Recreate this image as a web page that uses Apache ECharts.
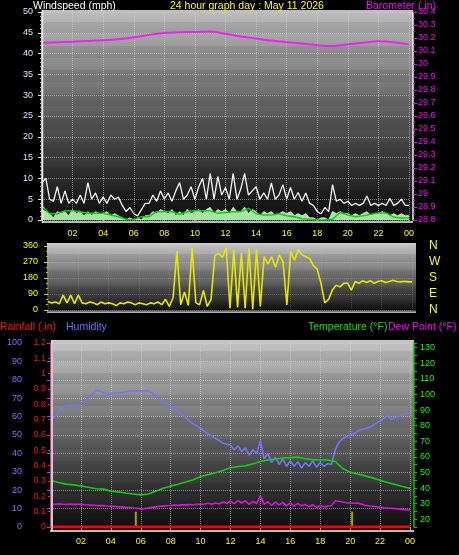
<!DOCTYPE html>
<html><head><meta charset="utf-8">
<script src="https://cdn.jsdelivr.net/npm/echarts/dist/echarts.min.js"></script>
<style>html,body{margin:0;padding:0;background:#000;}#c{width:459px;height:555px;}</style>
</head><body><div id="c"></div><script>
// ---------- DATA ----------
const hourLabels = ['00','02','04','06','08','10','12','14','16','18','20','22','00'];
const dirLetters = ['N','E','S','W','N'];          // 0, 90, 180, 270, 360
// samples every 15 min (97 values, 0h..24h)
const windGust = [9,10,5,4.5, 8,4,7,4, 5,4,6,4, 9,5,6.5,4, 5.5,4,6,5, 5.5,3.5,2,3, 1.5,1,2.5,4, 4,6,4.5,7,
  5,6.5,4.5,7, 9,5,6,8, 5,8,10,5, 11.2,5,10.5,6, 7.8,5,11.2,5, 7.5,11.2,6,7, 8,5,6.5,5, 8.9,5,6,8.5,
  5,7.8,5,6.6, 4.5,6.5,4,3.5, 2,1.5,3,2, 8.5,4.5,5,4, 4.5,3.5,4,3.5, 4,5.8,3.5,4, 3.5,4,3.5,5.2, 3.5,4,5,3.5, 3.5];
const windSpeed = [2.5,2,1.5,0.5, 2,1.5,2,1, 2.5,1.5,2,1, 2,1,2,1.5, 1.5,2,1,1.5, 1,0.5,0,0.5, 0,0.5,0,1, 1,2,1.5,2.5,
  2,1.5,2.5,1, 2,1,2.5,1.5, 2,2.5,1.5,2.5, 3,1.5,2.5,2, 2.5,1.5,3,2, 2,3,1.5,2.5, 2,1,2,1.5, 2,1,1.5,2,
  1.5,2,1,1.5, 1,1.5,0.5,0.5, 0,0.5,0.5,0, 2,1.5,2,1.5, 1.5,1,1.5,1, 1.5,2,1,1.5, 1.5,2,1.5,1, 1.5,1,1.5,1, 1];
// samples every 30 min (49 values)
const windAvg = [3.4,1.5,1.5,2.2,2.2,2,1.6,1.6,1.6,1.2,0.8,0.2,0.1,0.8,0.8,2,2,2,1.4,2,2.2,2.2,2.2,1.6,1.8,2,2,2.8,
  1.5,1.2,1.2,1.5,1,0.8,0.3,0.2,0,0,0.2,1.8,1.2,0.8,1,1.4,1.7,1.7,0.7,0.5,0.5];
// hourly (25 values)
const barometer = [30.163,30.168,30.172,30.177,30.182,30.19,30.205,30.224,30.238,30.244,30.246,30.25,30.232,
  30.212,30.196,30.18,30.168,30.158,30.145,30.138,30.152,30.164,30.175,30.168,30.151];
// every 15 min
const windDir = [47,40,45,35, 84,40,84,35, 84,40,35,45, 40,30,45,35, 40,35,25,40, 35,45,40,30, 40,35,30,40, 35,45,30,60,
  20,70,332,30, 101,25,348,40, 30,110,20,60, 305,320,295,350, 10,340,15,320, 10,350,5,340, 20,300,260,300,
  240,310,270,28, 330,280,340,310, 300,290,250,230, 150,40,60,112, 140,130,150,152, 112,160,150,165,
  155,165,150,160, 165,155,160,168, 160,158,162,158, 158];
const humidity = [58.5,60,62,64, 66,66,66,66, 67,68,70,72, 74,74,73,72, 72.5,73,73,73, 73.5,74,74,74, 74,74,74,73,
  71,69.5,68,67, 65.5,64.5,63,61.5, 59.5,57.5,56,55, 53.5,52,50.5,49.5, 48,47,45.5,45, 44.5,42,44,41,
  43,39,42,40, 47,37,40,35, 38,34,37,33, 36,33,35.5,32, 35,33,36,32.5, 35,33,34.5,34, 42,46,48,49,
  50,50.5,52,53, 53.5,54,55,56.5, 57.5,59,60.5,58.5, 59.5,60,61,61.5, 62];
// every 30 min
const temperature = [44.8,43.5,42.5,42,41.3,40.5,39.5,39.3,38,37.5,36.8,36.2,35.6,36.2,38,39.8,41.2,42.4,43.8,45.3,
  47.2,48.6,49.8,51.2,53,53.8,54.2,55.5,57,58,58.6,59.3,59.5,59.8,58.8,58.2,58,58,57,52.5,50.2,49,47.8,46.5,
  45,43.5,42.2,41,39.8];
// every 15 min
const dewPoint = [29.6,29.5,29.8,29.6, 29.4,29.7,29.5,29.6, 29.6,29.3,29.1,29, 28.8,28.7,28.8,28.5, 28.3,28.2,28,27.9,
  27.6,27.5,27.2,27, 26.6,26.8,27.2,27.6, 28,28.2,28.4,28.6, 28.8,29,28.9,29.2, 29.2,29.4,29.3,29.6,
  29.5,29.8,30.2,29.6, 30.4,29.8,31,30.2, 31.5,30,32,30.4, 31.8,29.5,31.5,30, 35,29.5,31.2,28.8,
  31,29.2,30.8,28.6, 30.5,28.4,30.2,28.5, 29.5,28,29.4,27.6, 28.8,27.8,28.5,28.6, 31.8,31.5,31,30.5,
  30.4,30.2,30.3,29.8, 29,28.5,28.3,28, 27.6,27.3,27.2,27, 26.8,26.6,26.3,26.1, 25.9];
// hourly rainfall total (in)
const rainTotal = [0,0,0,0,0,0,0,0,0,0,0,0,0,0,0,0,0,0,0,0,0,0,0,0,0];
const rainEventHours = [5.67, 20.13];
const rainEventValues = [0.1, 0.1];

// ---------- BUILD ----------
const at = step => (v,i) => [i*step, v];
const F = '"Liberation Sans", Arial, sans-serif';
const grad = (stops) => new echarts.graphic.LinearGradient(0,0,0,1, stops.map(s=>({offset:s[0],color:s[1]})));
const dotted = {show:true, lineStyle:{type:'dotted', color:'rgba(215,215,215,0.55)', width:1}};
const xLab = (v) => (v % 2 === 0 && v > 0 && v <= 24) ? hourLabels[v/2] : '';

const chart = echarts.init(document.getElementById('c'), null, {renderer:'canvas'});
const txt = (x,y,t,c,size) => ({type:'text', x, y, z:20, style:{text:t, fill:c, font: (size||10.5)+'px '+F, verticalAlign:'middle'}});
const rect = (x,y,w,h,fill,z) => ({type:'rect', z: z===undefined?-10:z, shape:{x,y,width:w,height:h}, style:{fill}});
const line = (x1,y1,x2,y2,c,w) => ({type:'line', z:15, shape:{x1,y1,x2,y2}, style:{stroke:c, lineWidth:w}});
// subtle horizontal texture bands (decoration of the plot backgrounds)
function bands(x,y,w,h,step){
  const out=[];
  for(let yy=y+step; yy<y+h-2; yy+=2*step){
    out.push({type:'rect', z:-9, shape:{x, y:yy, width:w, height:Math.min(step, y+h-yy)}, style:{fill:'rgba(0,0,0,0.07)'}});
  }
  return out;
}

chart.setOption({
  backgroundColor:'#000',
  animation:false,
  textStyle:{fontFamily:F},
  graphic:[
    rect(42,10,371,213, grad([[0,'#bebebe'],[0.5,'#5a5a5a'],[1,'#0a0a0a']])),
    rect(47,243,369,70, grad([[0,'#d0d0d0'],[0.05,'#bdbdbd'],[0.5,'#6a6a6a'],[0.95,'#151515'],[1,'#c8c8c8']])),
    rect(51,340,363,191, grad([[0,'#c6c6c6'],[0.5,'#666'],[1,'#0a0a0a']])),
    ...bands(42,10,371,213,12),
    ...bands(47,246,369,64,8),
    ...bands(51,340,363,191,11),
    line(42,222,413,222,'#b8b8b8',2),
    line(42.5,10,42.5,223,'#e8e8e8',1.5),
    line(50,531,414,531,'#b8b8b8',2),
    line(52,340,52,531,'#e8e8e8',1.5),
    txt(33,6,'Windspeed (mph)','#ffffff'),
    txt(170,6,'24 hour graph day : May 11 2026','#ffff00'),
    txt(366,6,'Barometer (.in)','#ff00ff'),
    txt(0,327,'Rainfall (.in)','#ff1010'),
    txt(66,327,'Humidity','#7070ff'),
    txt(308,327,'Temperature (°F)','#10e010'),
    txt(388,327,'Dew Point (°F)','#ff00ff')
  ],
  grid:[
    {left:42, top:12, width:367, height:208},
    {left:48, top:246, width:364, height:64},
    {left:51, top:343, width:359, height:184}
  ],
  xAxis:[
    {type:'value', gridIndex:0, min:0, max:24, interval:2,
     axisLine:{show:false}, axisTick:{show:true, length:3, lineStyle:{color:'#aaa'}},
     axisLabel:{color:'#ffff00', fontSize:9, margin:9, formatter:xLab}, splitLine:dotted},
    {type:'value', gridIndex:1, min:0, max:24, interval:2,
     axisLine:{show:false}, axisTick:{show:false}, axisLabel:{show:false},
     splitLine:{show:true, lineStyle:{type:'dotted', color:'rgba(200,200,200,0.2)'}}},
    {type:'value', gridIndex:2, min:0, max:24, interval:2,
     axisLine:{show:false}, axisTick:{show:true, length:3, lineStyle:{color:'#aaa'}},
     axisLabel:{color:'#ffff00', fontSize:9, margin:10, formatter:xLab}, splitLine:dotted}
  ],
  yAxis:[
    {type:'value', gridIndex:0, position:'left', min:0, max:50, interval:5,
     axisLine:{show:true, lineStyle:{color:'#e8e8e8', width:1.5}},
     axisTick:{show:true, length:4, lineStyle:{color:'#ddd'}},
     minorTick:{show:true, splitNumber:5, length:2, lineStyle:{color:'#bbb'}},
     axisLabel:{color:'#dfe4ff', fontSize:9, margin:9}, splitLine:dotted},
    {type:'value', gridIndex:0, position:'right', offset:4, min:28.8, max:30.4, interval:0.1,
     axisLine:{show:true, lineStyle:{color:'#f0f0f0', width:1.5}},
     axisTick:{show:true, length:4, lineStyle:{color:'#ff00ff'}},
     minorTick:{show:true, splitNumber:2, length:2, lineStyle:{color:'#ff00ff'}},
     axisLabel:{color:'#ff00ff', fontSize:9, margin:5, formatter:v=>String(parseFloat(v.toFixed(1)))},
     splitLine:{show:false}},
    {type:'value', gridIndex:1, position:'left', offset:1, min:0, max:360, interval:90,
     axisLine:{show:false},
     axisTick:{show:true, length:4, lineStyle:{color:'#e0e000'}},
     minorTick:{show:true, splitNumber:3, length:2, lineStyle:{color:'#c0c000'}},
     axisLabel:{color:'#ffff00', fontSize:9, margin:9},
     splitLine:{show:true, lineStyle:{type:'dotted', color:'rgba(200,200,200,0.25)'}}},
    {type:'value', gridIndex:1, position:'right', offset:4, min:0, max:360, interval:90,
     axisLine:{show:false}, axisTick:{show:false},
     axisLabel:{color:'#ffff00', fontSize:12, margin:13, formatter:v=>dirLetters[Math.round(v/90)]},
     splitLine:{show:false}},
    {type:'value', gridIndex:2, position:'left', offset:21, min:0, max:100, interval:10,
     axisLine:{show:true, lineStyle:{color:'#6464ff', width:3}},
     axisTick:{show:true, length:4, lineStyle:{color:'#6464ff'}},
     axisLabel:{color:'#7878ff', fontSize:9, margin:8}, splitLine:dotted},
    {type:'value', gridIndex:2, position:'left', offset:0, min:0, max:1.2, interval:0.1,
     axisLine:{show:true, lineStyle:{color:'#ff2020', width:1.5, type:'dashed'}},
     axisTick:{show:true, length:3, lineStyle:{color:'#ff2020'}},
     axisLabel:{color:'#ff1010', fontSize:9, margin:5, formatter:v=>String(parseFloat(v.toFixed(1)))},
     splitLine:{show:false}},
    {type:'value', gridIndex:2, position:'right', offset:4, min:15, max:133, interval:5,
     axisLine:{show:true, lineStyle:{color:'#00c000', width:1.5}},
     axisTick:{show:true, length:3, lineStyle:{color:'#00d000'}},
     axisLabel:{color:'#10ff10', fontSize:9, margin:6, formatter:v=>(v%10===0 && v>=20 && v<=130)?String(v):''},
     splitLine:{show:false}}
  ],
  series:[
    {name:'Gust', type:'line', xAxisIndex:0, yAxisIndex:0, data:windGust.map(at(0.25)), symbol:'none',
     lineStyle:{color:'#f4f4f4', width:1.3}, z:3},
    {name:'Wind', type:'line', xAxisIndex:0, yAxisIndex:0, data:windSpeed.map(at(0.25)), symbol:'none',
     lineStyle:{color:'#c8f5c8', width:1}, areaStyle:{color:'#a8e6a8', opacity:1}, z:4},
    {name:'Avg', type:'line', xAxisIndex:0, yAxisIndex:0, data:windAvg.map(at(0.5)), symbol:'none',
     lineStyle:{color:'#00d800', width:1.5}, z:5},
    {name:'Barometer', type:'line', xAxisIndex:0, yAxisIndex:1, data:barometer.map(at(1)), symbol:'none', smooth:0.3,
     lineStyle:{color:'#ee22ee', width:2}, z:6},
    {name:'Direction', type:'line', xAxisIndex:1, yAxisIndex:2, data:windDir.map(at(0.25)), symbol:'none',
     lineStyle:{color:'#e6e600', width:1.6}, z:5},
    {name:'Humidity', type:'line', xAxisIndex:2, yAxisIndex:4, data:humidity.map(at(0.25)), symbol:'none',
     lineStyle:{color:'#7474f4', width:1.6}, z:5},
    {name:'Temperature', type:'line', xAxisIndex:2, yAxisIndex:6, data:temperature.map(at(0.5)), symbol:'none',
     lineStyle:{color:'#10d010', width:1.6}, z:6},
    {name:'Dew Point', type:'line', xAxisIndex:2, yAxisIndex:6, data:dewPoint.map(at(0.25)), symbol:'none',
     lineStyle:{color:'#e010e0', width:1.6}, z:6},
    {name:'Rain event', type:'bar', xAxisIndex:2, yAxisIndex:5, barWidth:2,
     data:rainEventHours.map((h,i)=>[h, rainEventValues[i]]), itemStyle:{color:'#a8a000'}, z:4},
    {name:'Rainfall', type:'line', xAxisIndex:2, yAxisIndex:5, data:rainTotal.map(at(1)), symbol:'none',
     lineStyle:{color:'#ff0000', width:3}, z:7}
  ]
});
</script></body></html>
